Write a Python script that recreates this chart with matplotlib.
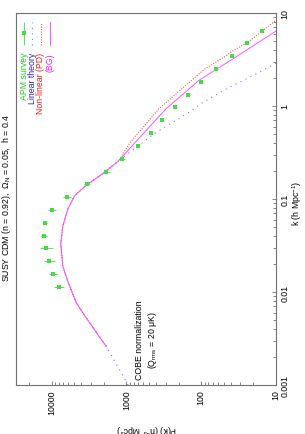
import matplotlib
matplotlib.use("Agg")
import matplotlib.pyplot as plt
from matplotlib.ticker import LogLocator, NullFormatter

plt.rcParams["font.family"] = ["Liberation Sans", "DejaVu Sans"]
plt.rcParams["mathtext.fontset"] = "custom"
plt.rcParams["mathtext.rm"] = "Liberation Sans"
plt.rcParams["mathtext.it"] = "Liberation Sans"

# APM survey points: k [h/Mpc], P(k) [h^-3 Mpc^3], error on P
k_apm = [0.0113, 0.0156, 0.0216, 0.0297, 0.040, 0.0552, 0.0762, 0.105, 0.145,
         0.195, 0.269, 0.371, 0.513, 0.707, 0.975, 1.31, 1.81, 2.50, 3.45,
         4.75, 6.40]
p_apm = [8040, 9690, 10990, 12050, 12820, 12440, 10000, 6270, 3370, 1862,
         1132, 710, 474, 336, 224, 150, 100, 62.7, 39.3, 24.7, 15.5]
perr_apm = [1200, 1290, 1850, 2400, 1260, 800, 1150, 720, 330, 180, 72, 34,
            23, 16, 11, 7, 5, 3, 1.9, 1.2, 0.7]

# linear theory
k_lin = [0.001, 0.0026, 0.0031, 0.0055, 0.0078, 0.013, 0.019, 0.033, 0.051,
         0.078, 0.108, 0.138, 0.186, 0.256, 0.50, 0.86, 1.08, 1.49, 2.1,
         2.57, 3.0]
p_lin = [950, 1860, 2180, 3580, 4740, 6080, 7100, 7550, 7100, 6080, 4950,
         3550, 2100, 1280, 432, 145, 97, 49, 21, 13, 9.3]

# non-linear, Peacock & Dodds
k_pd = [0.0026, 0.0031, 0.0055, 0.0078, 0.013, 0.019, 0.033, 0.051, 0.078,
        0.108, 0.138, 0.186, 0.256, 0.41, 0.93, 2.5, 2.97, 3.9, 5.0, 8.2]
p_pd = [1860, 2180, 3580, 4740, 6080, 7100, 7550, 7100, 6080, 4950, 3550,
        2100, 1280, 883, 370, 90, 63, 38, 22.5, 10.3]

# non-linear, BG
k_bg = [0.0026, 0.0031, 0.0055, 0.0078, 0.013, 0.019, 0.033, 0.051, 0.078,
        0.108, 0.138, 0.186, 0.256, 0.41, 0.93, 1.9, 3.45, 6.4]
p_bg = [1860, 2180, 3580, 4740, 6080, 7100, 7550, 7100, 6080, 4950, 3550,
        2100, 1280, 755, 297, 106, 32.7, 10]

GREEN, BLUE, RED, MAG = "#44dd44", "#7777ff", "#ff5555", "#ff55ff"
FS = 6.3

fig = plt.figure(figsize=(3.05, 4.35), dpi=100)
ax = fig.add_axes([16 / 305, 1 - 386 / 435, 260 / 305, 372 / 435])

# the whole plot is turned by 90 degrees: P(k) runs horizontally, k vertically
ax.plot(p_lin, k_lin, color=BLUE, lw=0.8, ls=(0, (1, 4)))
ax.plot(p_pd, k_pd, color=RED, lw=0.8, ls=(0, (1, 1.3)))
ax.plot(p_bg, k_bg, color=MAG, lw=0.7)
ax.errorbar(p_apm, k_apm, xerr=perr_apm, fmt="s", ms=2.6, color=GREEN,
            ecolor=GREEN, elinewidth=0.6, capsize=1.8, capthick=0.6, mew=0)

ax.set_xscale("log")
ax.set_yscale("log")
ax.set_xlim(3e4, 10)
ax.set_ylim(1e-3, 10)

for s in ax.spines.values():
    s.set_color("#707070")
    s.set_linewidth(0.8)

ax.set_xticks([10000, 1000, 100, 10], ["10000", "1000", "100", "10"])
ax.xaxis.set_minor_locator(LogLocator(base=10, subs=range(2, 10)))
ax.xaxis.set_minor_formatter(NullFormatter())
ax.yaxis.tick_right()
ax.set_yticks([0.001, 0.01, 0.1, 1, 10], ["0.001", "0.01", "0.1", "1", "10"])
ax.yaxis.set_minor_locator(LogLocator(base=10, subs=range(2, 10)))
ax.yaxis.set_minor_formatter(NullFormatter())
ax.tick_params(which="both", direction="in", color="#707070", width=0.6,
               labelsize=FS, pad=3)
ax.tick_params(which="major", length=3)
ax.tick_params(which="minor", length=2)
for lab in ax.get_xticklabels():
    lab.set_rotation(90)
for lab in ax.get_yticklabels():
    lab.set_rotation(90)
    lab.set_va("center")

# legend, built by hand to keep the rotated layout
tr = ax.transAxes
ax.errorbar([0.031], [0.945], yerr=[0.031], transform=tr, fmt="s", ms=2.6,
            color=GREEN, elinewidth=0.6, capsize=1.8, capthick=0.6, mew=0)
ax.plot([0.062, 0.062], [0.914, 0.976], transform=tr, color=BLUE, lw=0.8,
        ls=(0, (1, 4)))
ax.plot([0.096, 0.096], [0.914, 0.976], transform=tr, color=RED, lw=0.8,
        ls=(0, (1, 1.3)))
ax.plot([0.131, 0.131], [0.914, 0.976], transform=tr, color=MAG, lw=0.7)
legend = [("APM survey", 0.031, "#22cc22"), ("Linear theory", 0.062, "#2222dd"),
          ("Non-linear (PD)", 0.096, "#ee2222"), ("(BG)", 0.131, "#ee22ee")]
for txt, xa, col in legend:
    ax.text(xa, 0.895, txt, transform=tr, rotation=90, ha="center", va="top",
            color=col, fontsize=FS)

ax.text(537, 0.00313, "COBE normalization\n(Q$_{\\rm rms}$ = 20 \u03bcK)",
        rotation=90, ha="center", va="center", multialignment="center",
        fontsize=FS)

fig.text(7 / 305, 1 - 198 / 435,
         "SUSY CDM (n = 0.92),  $\\Omega_{\\rm N}$ = 0.05,  h = 0.4",
         rotation=90, ha="center", va="center", fontsize=FS)
fig.text(297 / 305, 1 - 203 / 435, "k (h Mpc$^{-1}$)", rotation=90,
         ha="center", va="center", fontsize=FS)
fig.text(147 / 305, 1 - 429 / 435, "P(k) (h$^{-3}$ Mpc$^{3}$)", rotation=180,
         ha="center", va="center", fontsize=FS)

fig.savefig("out.png", dpi=100)
